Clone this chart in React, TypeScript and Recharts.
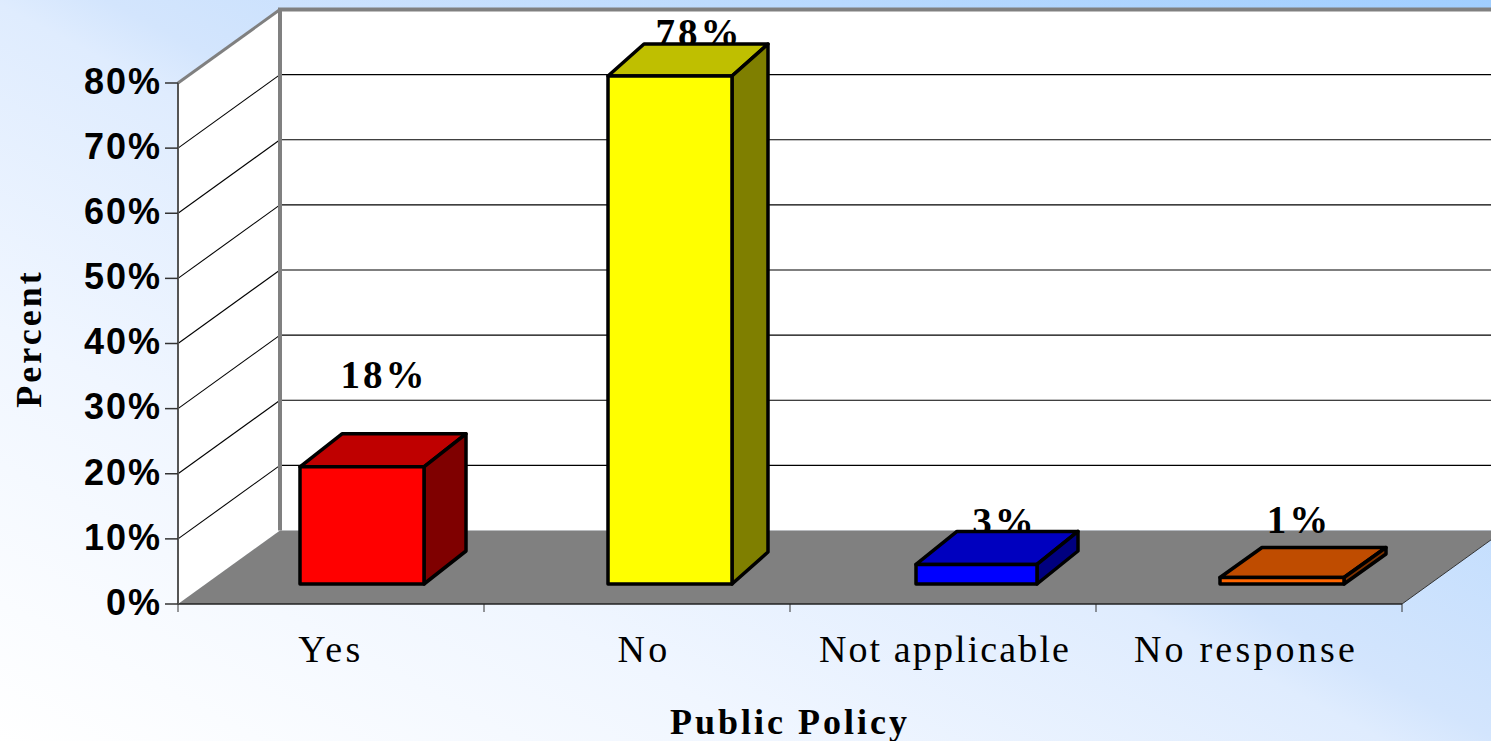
import { BarChart, Bar, XAxis, YAxis, usePlotArea } from 'recharts'

const categories = ['Yes', 'No', 'Not applicable', 'No response']
const percents = [18, 78, 3, 1]
const percentLabels = ['18%', '78%', '3%', '1%']
const yTicks = [0, 10, 20, 30, 40, 50, 60, 70, 80]

const frontColors = ['#ff0000', '#ffff00', '#0000ff', '#ff6600']
const topColors = ['#bf0000', '#bfbf00', '#0000bf', '#bf4c00']
const sideColors = ['#7f0000', '#7f7f00', '#00007f', '#7f3300']

const chartData = categories.map((name, i) => ({ name, percent: percents[i], label: percentLabels[i] }))

// depth of the room and of the boxes standing in it
const ROOM_DX = 102
const ROOM_DY = -73.5
const BOX_SHIFT_Y = -20

// small per box adjustments, the original is not quite regular
const boxShiftX = [31, 33, 32, 33]
const boxDepthX = [42, 36, 41, 42]
const boxDepthY = [-33, -32, -33, -30]
const boxTrim = [0, 0, 3, 0]
const labelNudge = [
  [22, -79],
  [29, -30],
  [29.5, -29],
  [17, -44],
]
const categoryNudge = [0, 7, 2, -3]
const categorySpacing = [3.4, 3.4, 2.1, 3.2]

const serif = "'Liberation Serif', serif"

function Room() {
  const plot = usePlotArea()
  if (!plot) return null
  const { x, y, width, height } = plot
  const bottom = y + height
  const right = x + width
  const yFor = (v: number) => bottom - (height * v) / 80
  const bandTicks = categories.map((_, i) => x + (width * i) / categories.length).concat(right)

  return (
    <g>
      <polygon
        points={`${x},${y} ${x + ROOM_DX},${y + ROOM_DY} ${x + ROOM_DX},${bottom + ROOM_DY} ${x},${bottom}`}
        fill="#ffffff"
      />
      <rect x={x + ROOM_DX} y={y + ROOM_DY} width={width} height={height} fill="#ffffff" />
      <polygon
        points={`${x},${bottom} ${x + ROOM_DX},${bottom + ROOM_DY} ${right + ROOM_DX},${bottom + ROOM_DY} ${right},${bottom}`}
        fill="#808080"
      />
      {yTicks.filter(v => v > 0 && v < 80).map(v => (
        <g key={v}>
          <line x1={x} y1={yFor(v)} x2={x + ROOM_DX} y2={yFor(v) + ROOM_DY} stroke="#000" strokeWidth={1.1} />
          <line x1={x + ROOM_DX} y1={yFor(v) + ROOM_DY} x2={right + ROOM_DX} y2={yFor(v) + ROOM_DY} stroke="#000" strokeWidth={1.2} />
        </g>
      ))}
      <line x1={x + ROOM_DX} y1={y + ROOM_DY} x2={x + ROOM_DX} y2={bottom + ROOM_DY} stroke="#808080" strokeWidth={4} />
      <line x1={x + ROOM_DX - 2} y1={y + ROOM_DY} x2={right + ROOM_DX} y2={y + ROOM_DY} stroke="#808080" strokeWidth={4} />
      <line x1={x} y1={y} x2={x + ROOM_DX} y2={y + ROOM_DY} stroke="#808080" strokeWidth={3} />
      {bandTicks.map(t => (
        <line key={t} x1={t} y1={bottom} x2={t} y2={bottom + 8} stroke="#333" strokeWidth={1} />
      ))}
      <line x1={right} y1={bottom} x2={right + ROOM_DX} y2={bottom + ROOM_DY} stroke="#333" strokeWidth={1} />
    </g>
  )
}

function Box(props: any) {
  const { x, y, width, height, index } = props
  const left = x + boxShiftX[index] + boxTrim[index]
  const top = y + BOX_SHIFT_Y
  const right = x + boxShiftX[index] + width
  const bottom = top + height
  const depthX = boxDepthX[index]
  const depthY = boxDepthY[index]
  const [nudgeX, nudgeY] = labelNudge[index]

  return (
    <g>
      <text
        x={x + boxShiftX[index] + width / 2 + nudgeX}
        y={top + nudgeY}
        textAnchor="middle"
        fontFamily={serif}
        fontWeight="bold"
        fontSize={39}
        letterSpacing={3}
        fill="#000"
      >
        {percentLabels[index]}
      </text>
      <g stroke="#000" strokeWidth={3.5} strokeLinejoin="round">
        <polygon
          points={`${left},${top} ${left + depthX},${top + depthY} ${right + depthX},${top + depthY} ${right},${top}`}
          fill={topColors[index]}
        />
        <polygon
          points={`${right},${top} ${right + depthX},${top + depthY} ${right + depthX},${bottom + depthY} ${right},${bottom}`}
          fill={sideColors[index]}
        />
        <rect x={left} y={top} width={right - left} height={height} fill={frontColors[index]} />
      </g>
    </g>
  )
}

function CategoryTick(props: any) {
  const { x, y, index, payload } = props
  return (
    <text
      x={x + categoryNudge[index]}
      y={y + 50}
      textAnchor="middle"
      fontFamily={serif}
      fontSize={38}
      letterSpacing={categorySpacing[index]}
      fill="#000"
    >
      {payload.value}
    </text>
  )
}

export default function App() {
  return (
    <div
      style={{
        position: 'absolute',
        left: 0,
        top: 0,
        width: 1491,
        height: 741,
        overflow: 'hidden',
        background: 'linear-gradient(208deg, #a0ceff 0%, #d3e5fd 48%, #dfecfe 52%, #f0f6ff 73%, #ffffff 100%)',
      }}
    >
      <BarChart
        width={1491}
        height={741}
        data={chartData}
        margin={{ top: 83, right: 89, bottom: 0, left: 0 }}
        barSize={124}
      >
        <Room />
        <XAxis
          dataKey="name"
          height={137}
          axisLine={{ stroke: '#222', strokeWidth: 1.5 }}
          tickLine={false}
          interval={0}
          tick={<CategoryTick />}
          label={{
            value: 'Public Policy',
            position: 'insideBottom',
            offset: 7,
            style: { fontFamily: serif, fontWeight: 'bold', fontSize: 36, letterSpacing: 3, fill: '#000' },
          }}
        />
        <YAxis
          width={178}
          domain={[0, 80]}
          ticks={yTicks}
          tickFormatter={(v: number) => `${v}%`}
          axisLine={{ stroke: '#555', strokeWidth: 2 }}
          tickLine={{ stroke: '#333', strokeWidth: 1.5 }}
          tickSize={13}
          tickMargin={3}
          tick={{ fontFamily: "'Liberation Sans', sans-serif", fontWeight: 'bold', fontSize: 36, letterSpacing: 2, fill: '#000', dy: -2 }}
          label={{
            value: 'Percent',
            angle: -90,
            position: 'insideLeft',
            offset: 28,
            dy: -5,
            style: { fontFamily: serif, fontWeight: 'bold', fontSize: 36, letterSpacing: 3, fill: '#000', textAnchor: 'middle' },
          }}
        />
        <Bar dataKey="percent" shape={Box} isAnimationActive={false} />
      </BarChart>
    </div>
  )
}
